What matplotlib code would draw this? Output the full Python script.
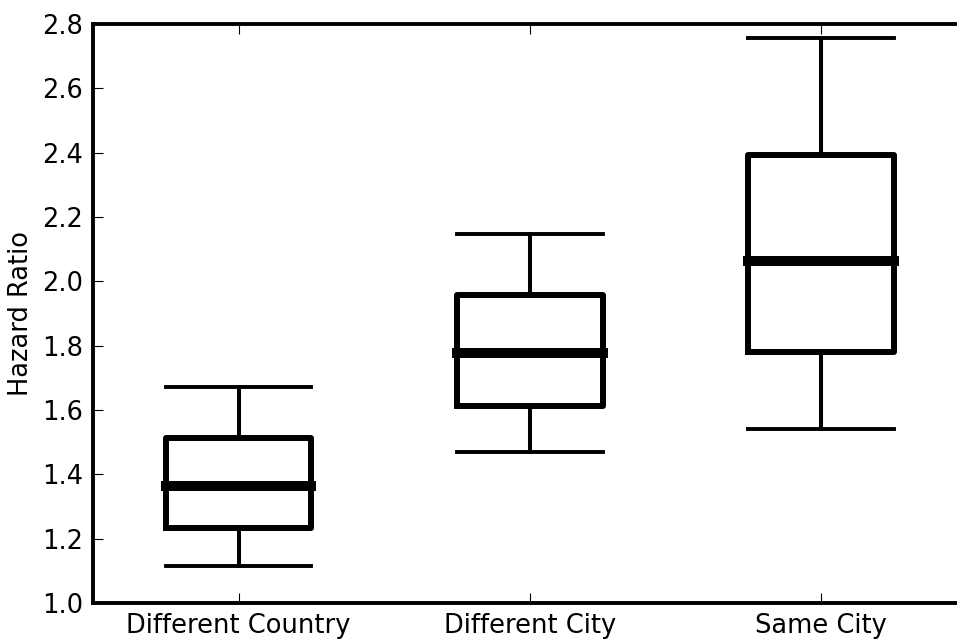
import matplotlib
matplotlib.use("Agg")
from matplotlib import pyplot

categories = ["Different Country", "Different City", "Same City"]
whisker_low = [1.116, 1.470, 1.542]
box_low = [1.234, 1.612, 1.779]
medians = [1.365, 1.776, 2.063]
box_high = [1.512, 1.956, 2.393]
whisker_high = [1.672, 2.147, 2.755]

stats = []
for i in range(len(categories)):
    stats.append({
        "label": categories[i],
        "whislo": whisker_low[i],
        "q1": box_low[i],
        "med": medians[i],
        "q3": box_high[i],
        "whishi": whisker_high[i],
        "fliers": [],
    })

fig = pyplot.figure(figsize=(9.57, 6.39), dpi=100)
# axes runs a bit past the right edge of the figure
ax = fig.add_axes([93 / 957, 36 / 639, 874 / 957, 579 / 639])

ax.bxp(
    stats,
    widths=0.5,
    capwidths=0.5,
    showfliers=False,
    boxprops=dict(color="black", linewidth=4.3),
    whiskerprops=dict(color="black", linewidth=2.9, linestyle="-"),
    capprops=dict(color="black", linewidth=2.8),
    medianprops=dict(color="black", linewidth=7.2, solid_capstyle="projecting"),
)

ax.set_xlim(0.5, 3.5)
ax.set_ylim(1.0, 2.8)
ax.set_yticks([1.0, 1.2, 1.4, 1.6, 1.8, 2.0, 2.2, 2.4, 2.6, 2.8])
ax.set_yticklabels(["1.0", "1.2", "1.4", "1.6", "1.8", "2.0", "2.2", "2.4", "2.6", "2.8"])
ax.set_ylabel("Hazard Ratio", fontsize=18.5, labelpad=6)

ax.tick_params(axis="both", direction="in", length=7, width=0.8,
               top=True, right=True, pad=7)
ax.tick_params(axis="y", labelsize=18.5)
ax.tick_params(axis="x", labelsize=18.5, pad=7)

for spine in ax.spines.values():
    spine.set_linewidth(2.8)

fig.savefig("out.png", dpi=100)
